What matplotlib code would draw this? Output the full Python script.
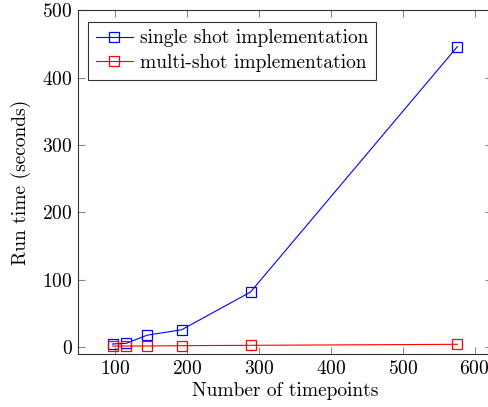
import matplotlib
matplotlib.use("Agg")
import matplotlib.pyplot as plt

timepoints = [96, 115.2, 144, 192, 288, 576]
single_shot = [5, 6, 18, 26, 82, 446]
multi_shot = [2, 2, 2, 2.5, 3, 4.5]
xticks = [100, 200, 300, 400, 500, 600]
yticks = [0, 100, 200, 300, 400, 500]

plt.rcParams['font.family'] = ['cmr10', 'DejaVu Serif']
plt.rcParams['mathtext.fontset'] = 'cm'
plt.rcParams['axes.formatter.use_mathtext'] = True

fig = plt.figure(figsize=(4.88, 4.07), dpi=100)
ax = fig.add_axes([0.16, 0.13, 0.848, 0.845])

ax.plot(timepoints, single_shot, color='blue', lw=0.8, marker='s', ms=7.5,
        mfc='none', mec='blue', mew=0.9, label='single shot implementation')
ax.plot(timepoints, multi_shot, color='red', lw=0.8, marker='s', ms=7.5,
        mfc='none', mec='red', mew=0.9, label='multi-shot implementation')

ax.set_xlim(48, 624)
ax.set_ylim(-10, 500)
ax.set_xticks(xticks)
ax.set_yticks(yticks)
ax.tick_params(direction='in', top=True, right=True, length=5, width=0.8,
               color='#888888', labelsize=14, pad=4)
for s in ax.spines.values():
    s.set_linewidth(0.8)
    s.set_color('#333333')
ax.set_xlabel('Number of timepoints', fontsize=14, labelpad=3)
ax.set_ylabel('Run time (seconds)', fontsize=14, labelpad=8)

leg = ax.legend(loc='upper left', fontsize=14, fancybox=False, edgecolor='#333333',
                framealpha=1, borderaxespad=0.5, handlelength=1.9,
                handletextpad=0.4, borderpad=0.4, labelspacing=0.35,
                bbox_to_anchor=(0.0, 0.995))
leg.get_frame().set_linewidth(0.8)

fig.savefig('out.png', dpi=100)
